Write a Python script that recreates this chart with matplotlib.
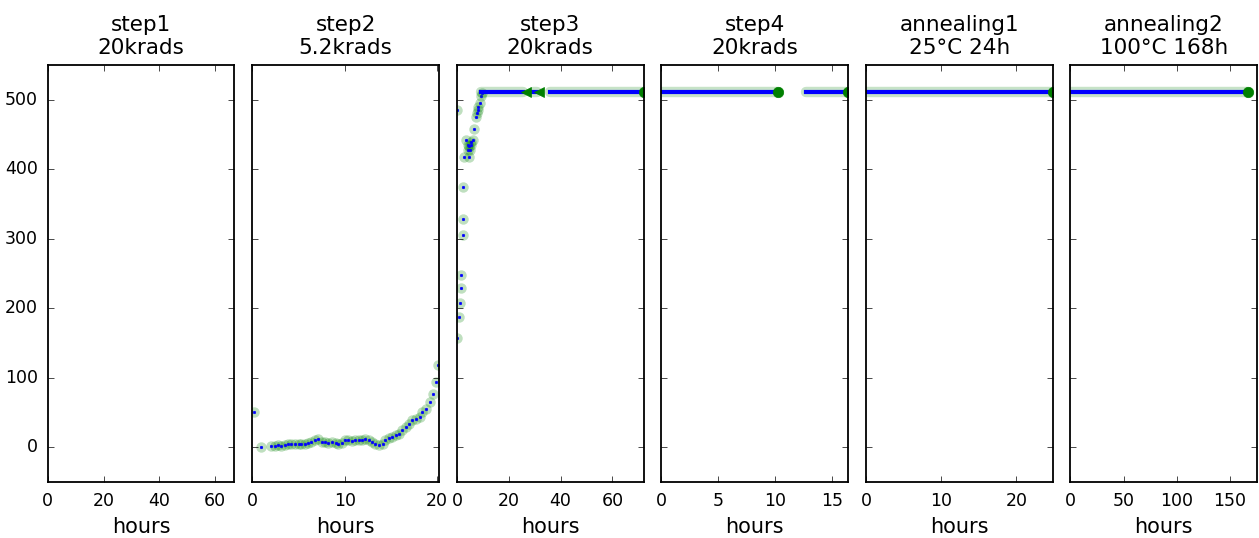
import matplotlib
matplotlib.use('Agg')
import matplotlib.pyplot as plt
from matplotlib.ticker import MultipleLocator

plt.style.use('classic')
plt.rcParams['font.family'] = ['DejaVu Sans']
plt.rcParams['axes.linewidth'] = 1.3

# panel titles, x limits (hours) and tick spacing
titles = ['step1\n20krads', 'step2\n5.2krads', 'step3\n20krads',
          'step4\n20krads', 'annealing1\n25°C 24h', 'annealing2\n100°C 168h']
x_max = [67, 20.2, 72, 16.4, 24.8, 176]
x_step = [20, 10, 20, 5, 10, 50]

# step2: sparse readings
step2_hours = [0.2, 0.95, 2.0, 2.4, 2.8, 3.1, 3.5, 3.9, 4.2, 4.6, 5.0, 5.3,
               5.7, 6.0, 6.4, 6.8, 7.1, 7.5, 7.9, 8.2, 8.6, 9.0, 9.3, 9.7,
               10.0, 10.4, 10.8, 11.1, 11.5, 11.9, 12.2, 12.6, 13.0, 13.3,
               13.7, 14.1, 14.4, 14.8, 15.1, 15.5, 15.9, 16.2, 16.6, 17.0,
               17.3, 17.7, 18.1, 18.4, 18.8, 19.2, 19.5, 19.9, 20.1]
step2_vals = [51, 0.5, 1.9, 1.4, 2.9, 1.9, 3.8, 4.3, 5.3, 5.3, 4.3, 5.3,
              5.3, 6.2, 7.7, 10.1, 12.5, 7.7, 7.7, 6.2, 7.7, 6.2, 5.3, 6.2,
              10.1, 11.0, 9.1, 10.1, 10.1, 11.0, 12.5, 10.1, 7.7, 4.3,
              2.9, 5.3, 11.0, 13.9, 14.9, 17.3, 19.7, 24.5, 29.3, 34.1,
              38.9, 41.3, 43.7, 50.9, 55.7, 65.3, 77.3, 94.1, 118]

# step3: rise before saturation
step3_hours = [0.0, 0.0, 0.7, 1.3, 1.7, 1.7, 2.2, 2.5, 2.5, 2.9, 4.6, 4.1,
               5.0, 4.1, 5.4, 3.7, 6.3, 5.4, 4.7, 6.7, 7.3, 7.6, 8.0, 8.3,
               8.8, 9.2, 9.8]
step3_vals = [486, 157, 188, 207, 229, 248, 306, 328, 374, 418, 418, 428,
              428, 435, 435, 442, 442, 440, 433, 458, 476, 481, 486, 490,
              496, 505, 510]

# saturated level and continuous segments (start, end hours) per panel
level = 511
segments = [[], [], [(9.3, 25.5), (29.5, 31.0), (36.0, 72.0)],
            [(0, 10.2), (12.7, 16.4)], [(0, 24.8)], [(0, 167)]]
# dark green end marks per panel: (hours, marker)
end_marks = [[], [], [(26.8, '<'), (31.8, '<'), (72.0, 'o')],
             [(10.2, 'o'), (16.4, 'o')], [(24.8, 'o')], [(167, 'o')]]

fig, axes = plt.subplots(1, 6, figsize=(12.59, 5.38), dpi=100, sharey=True)
fig.patch.set_facecolor('white')
plt.subplots_adjust(left=0.038, right=0.9985, top=0.879, bottom=0.104, wspace=0.096)

points = {1: (step2_hours, step2_vals), 2: (step3_hours, step3_vals)}

for i, ax in enumerate(axes):
    ax.set_facecolor('white')
    if i in points:
        hx, hy = points[i]
        ax.plot(hx, hy, 'o', color='green', alpha=0.25, ms=7.5, mec='none')
        ax.plot(hx, hy, '.', color='blue', ms=3.5)
    for s, e in segments[i]:
        ax.plot([s, e], [level, level], '-', color='green', alpha=0.22, lw=7.5,
                solid_capstyle='round')
        ax.plot([s, e], [level, level], '-', color='blue', lw=3)
    for h, m in end_marks[i]:
        ax.plot([h], [level], m, color='green', mec='green', ms=7.5)
    ax.set_xlim(0, x_max[i])
    ax.xaxis.set_major_locator(MultipleLocator(x_step[i]))
    ax.set_ylim(-50, 550)
    ax.yaxis.set_major_locator(MultipleLocator(100))
    ax.set_title(titles[i], fontsize=15.5, pad=8)
    ax.set_xlabel('hours', fontsize=15)
    ax.tick_params(labelsize=12.5, pad=7)
    ax.tick_params(axis='y', labelleft=(i == 0))

plt.savefig('out.png', dpi=100, facecolor='white')
